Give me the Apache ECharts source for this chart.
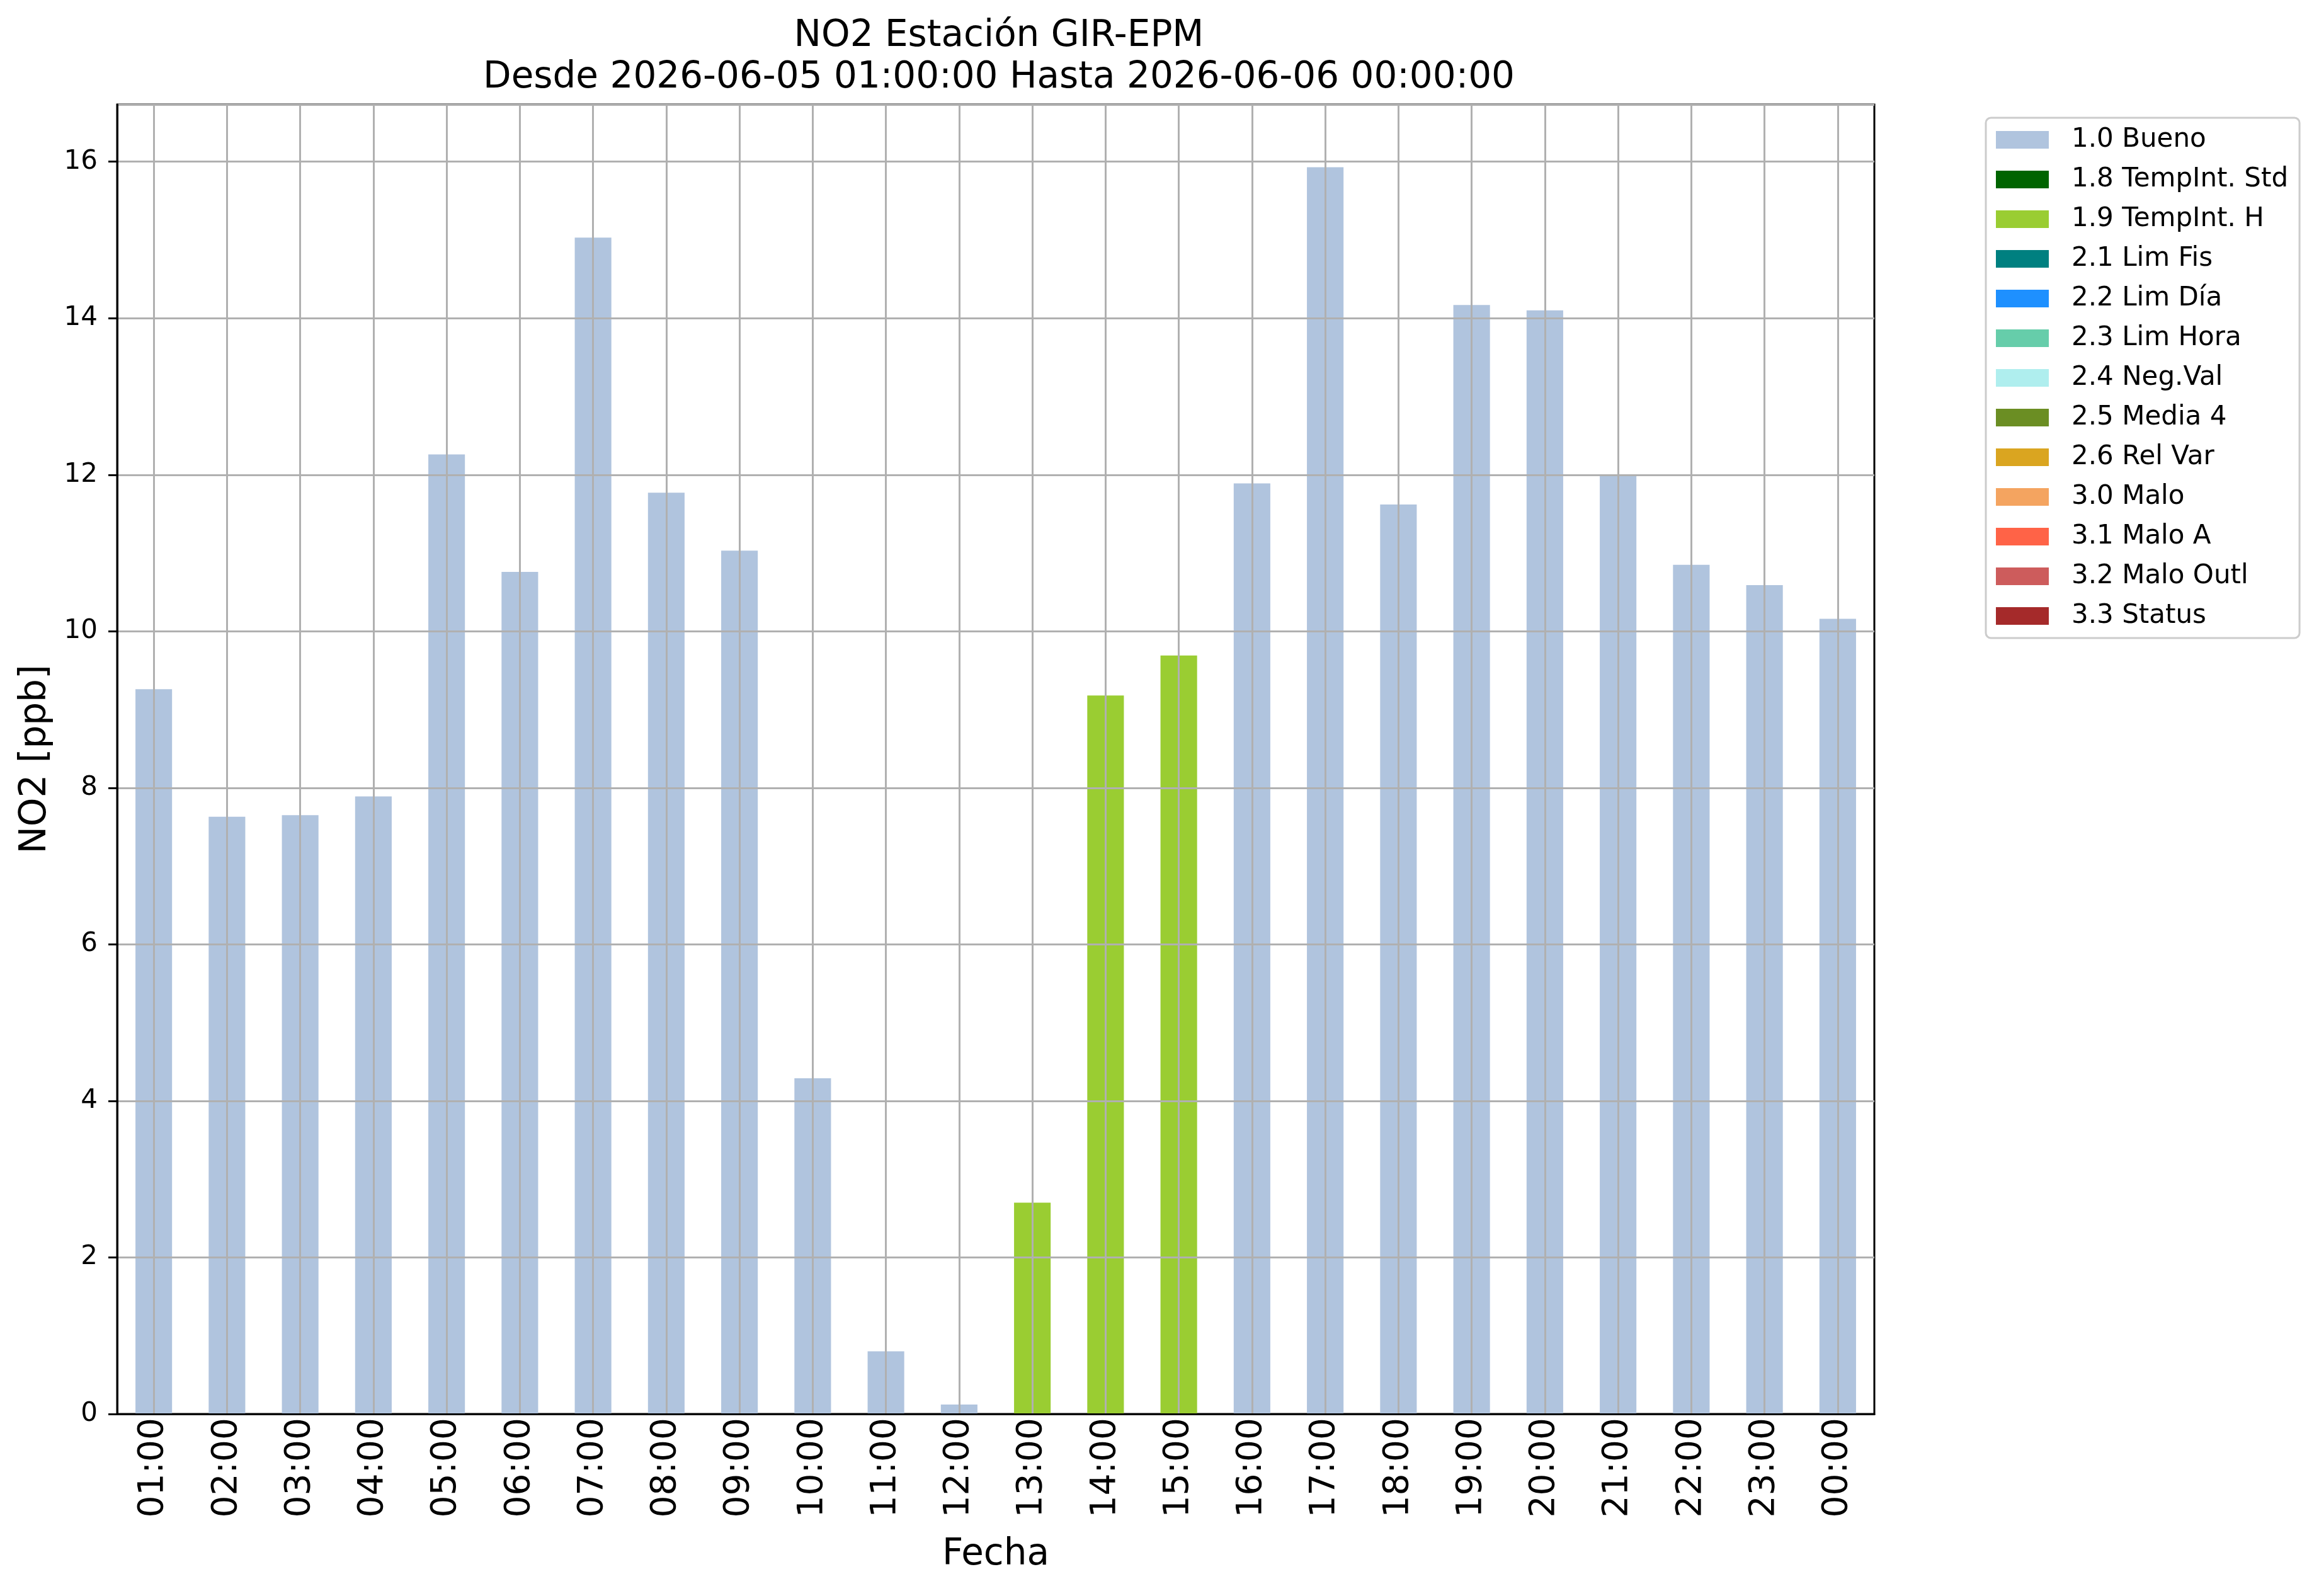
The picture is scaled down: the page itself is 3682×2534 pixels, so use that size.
<!DOCTYPE html>
<html>
<head>
<meta charset="utf-8">
<script src="https://cdn.jsdelivr.net/npm/echarts@6/dist/echarts.min.js"></script>
<style>
html, body { margin: 0; padding: 0; background: #fff; }
#chart { width: 3682px; height: 2534px; }
</style>
</head>
<body>
<div id="chart"></div>
<script>
// datos
var hours = ['01:00','02:00','03:00','04:00','05:00','06:00','07:00','08:00','09:00','10:00','11:00','12:00',
             '13:00','14:00','15:00','16:00','17:00','18:00','19:00','20:00','21:00','22:00','23:00','00:00'];
var no2 = [9.26, 7.63, 7.65, 7.89, 12.26, 10.76, 15.03, 11.77, 11.03, 4.29, 0.80, 0.12,
           2.70, 9.18, 9.69, 11.89, 15.93, 11.62, 14.17, 14.10, 12.00, 10.85, 10.59, 10.16];
var hourFlag = ['1.0','1.0','1.0','1.0','1.0','1.0','1.0','1.0','1.0','1.0','1.0','1.0',
                '1.9','1.9','1.9','1.0','1.0','1.0','1.0','1.0','1.0','1.0','1.0','1.0'];
var flagCodes = ['1.0','1.8','1.9','2.1','2.2','2.3','2.4','2.5','2.6','3.0','3.1','3.2','3.3'];
var flagLabels = ['1.0 Bueno','1.8 TempInt. Std','1.9 TempInt. H','2.1 Lim Fis','2.2 Lim Día','2.3 Lim Hora',
                  '2.4 Neg.Val','2.5 Media 4','2.6 Rel Var','3.0 Malo','3.1 Malo A','3.2 Malo Outl','3.3 Status'];
var flagColors = ['#B0C4DE','#006400','#9ACD32','#008080','#1E90FF','#66CDAA',
                  '#AFEEEE','#6B8E23','#DAA520','#F4A460','#FF6347','#CD5C5C','#A52A2A'];
var yTicks = [0, 2, 4, 6, 8, 10, 12, 14, 16];

var FONT = 'DejaVu Sans';
var chart = echarts.init(document.getElementById('chart'));

var series = flagLabels.map(function (name, i) {
    return {
        name: name,
        type: 'bar',
        stack: 'total',
        barWidth: '50%',
        itemStyle: { color: flagColors[i] },
        data: no2.map(function (v, j) { return hourFlag[j] === flagCodes[i] ? v : '-'; })
    };
});

chart.setOption({
    animation: false,
    backgroundColor: '#fff',
    title: {
        text: 'NO2 Estación GIR-EPM\nDesde 2026-06-05 01:00:00 Hasta 2026-06-06 00:00:00',
        left: 1581,
        top: 20,
        textAlign: 'center',
        textStyle: { fontFamily: FONT, fontSize: 58, fontWeight: 'normal', color: '#000', lineHeight: 66 }
    },
    legend: {
        orient: 'vertical',
        left: 3153,
        top: 187,
        data: flagLabels,
        icon: 'rect',
        itemWidth: 84,
        itemHeight: 28,
        itemGap: 21,
        padding: [14, 18, 14, 16],
        borderColor: '#cccccc',
        borderWidth: 3,
        borderRadius: 8,
        backgroundColor: '#fff',
        selectedMode: false,
        textStyle: { fontFamily: FONT, fontSize: 42, color: '#000', lineHeight: 42, padding: [0, 0, 0, 31] }
    },
    grid: {
        left: 186, top: 166, right: 706, bottom: 289,
        show: true, borderColor: '#000', borderWidth: 3
    },
    xAxis: {
        type: 'category',
        data: hours,
        z: 3,
        name: 'Fecha',
        nameLocation: 'middle',
        nameGap: 195,
        nameTextStyle: { fontFamily: FONT, fontSize: 58, color: '#000' },
        axisLine: { lineStyle: { color: '#000', width: 3 } },
        axisTick: { alignWithLabel: true, length: 14, lineStyle: { color: '#000', width: 3 } },
        axisLabel: { rotate: 90, margin: 6, fontFamily: FONT, fontSize: 55, color: '#000' },
        splitLine: { show: true, alignWithLabel: true, lineStyle: { color: '#b0b0b0', width: 3 } }
    },
    yAxis: {
        type: 'value',
        min: 0,
        max: 16.73,
        interval: 2,
        z: 3,
        name: 'NO2 [ppb]',
        nameLocation: 'middle',
        nameRotate: 90,
        nameGap: 100,
        nameTextStyle: { fontFamily: FONT, fontSize: 58, color: '#000' },
        axisLine: { show: true, lineStyle: { color: '#000', width: 3 } },
        axisTick: { show: true, length: 14, lineStyle: { color: '#000', width: 3 } },
        axisLabel: {
            margin: 31, fontFamily: FONT, fontSize: 42, color: '#000', showMaxLabel: false,
            formatter: function (v) { return yTicks.indexOf(v) >= 0 ? String(v) : ''; }
        },
        splitLine: { show: true, lineStyle: { color: '#b0b0b0', width: 3 } }
    },
    series: series
});
</script>
</body>
</html>
